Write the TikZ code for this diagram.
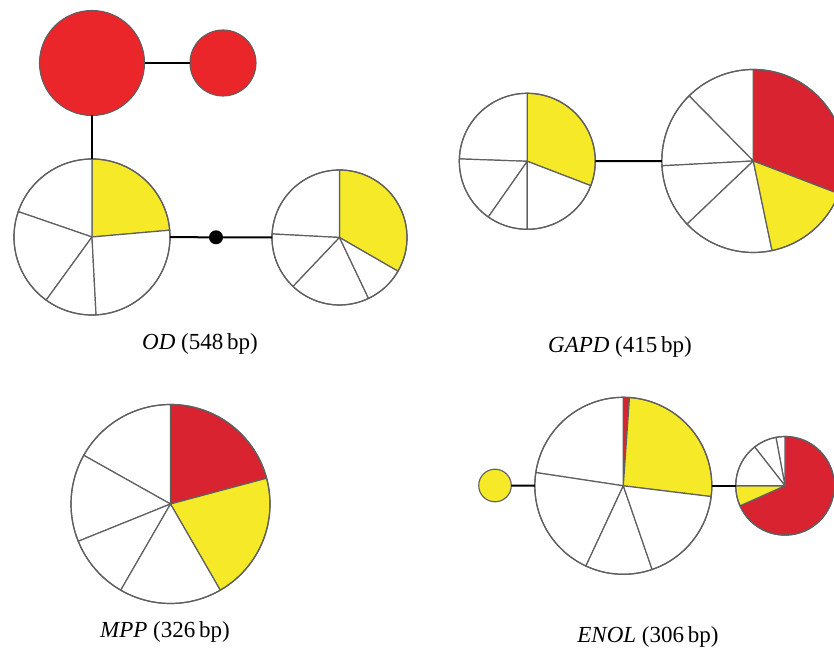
\documentclass[tikz,border=0pt]{standalone}
\usepackage{fontspec}
\setmainfont{Liberation Serif}
\definecolor{odred}{RGB}{234,38,42}
\definecolor{pred}{RGB}{218,35,48}
\definecolor{pyel}{RGB}{246,233,40}
\definecolor{pline}{RGB}{95,95,95}
\newcommand\pieslice[5]{%
  \filldraw[slice, fill=#5] (#1.center) -- ++(#3:#2pt) arc[start angle=#3, end angle=#4, radius=#2pt] -- cycle;}
\newcommand\pierim[2]{\draw[slice] (#1.center) circle[radius=#2pt];}
\begin{document}
\begin{tikzpicture}[x=1pt,y=1pt,
  slice/.style={draw=pline, line width=1.2pt, line join=round},
  pienode/.style={circle, inner sep=0pt, outer sep=0pt},
  fullnode/.style={circle, inner sep=0pt, outer sep=0pt, draw=pline, line width=1.1pt},
  link/.style={draw=black, line width=2pt},
  lab/.style={font=\fontsize{23}{27}\selectfont, inner sep=0pt}]
\useasboundingbox (0,0) rectangle (834,650);
\clip (0,0) rectangle (834,650);

% ---------------- OD ----------------
\node[fullnode, fill=odred, minimum size=105pt] (odA) at (92,587) {};
\node[fullnode, fill=odred, minimum size=66pt] (odB) at (223,587) {};
\node[pienode, minimum size=156pt] (odC) at (92,413) {};
\node[circle, fill=black, inner sep=0pt, outer sep=0pt, minimum size=14pt] (dot) at (216,412.7) {};
\node[pienode, minimum size=135pt] (odD) at (339.5,412.5) {};
\pieslice{odC}{78}{5}{90}{pyel}
\pieslice{odC}{78}{90}{161}{white}
\pieslice{odC}{78}{161}{234}{white}
\pieslice{odC}{78}{234}{273}{white}
\pieslice{odC}{78}{273}{365}{white}
\pierim{odC}{78}
\pieslice{odD}{67.5}{-30}{90}{pyel}
\pieslice{odD}{67.5}{90}{177}{white}
\pieslice{odD}{67.5}{177}{226.5}{white}
\pieslice{odD}{67.5}{226.5}{295.5}{white}
\pieslice{odD}{67.5}{295.5}{330}{white}
\pierim{odD}{67.5}
\draw[link] (odA) -- (odB);
\draw[link] (odA) -- (odC);
\draw[link] (odC) -- (dot) -- (odD);
\node[lab] (odlab) at (200,306) {\textit{OD} (548\,bp)};

% ---------------- GAPD ----------------
\node[pienode, minimum size=136pt] (gA) at (527.3,488.7) {};
\node[pienode, minimum size=183pt] (gB) at (753.3,489) {};
\pieslice{gA}{68}{-21}{90}{pyel}
\pieslice{gA}{68}{90}{178}{white}
\pieslice{gA}{68}{178}{235}{white}
\pieslice{gA}{68}{235}{270}{white}
\pieslice{gA}{68}{270}{339}{white}
\pierim{gA}{68}
\pieslice{gB}{91.5}{-21}{90}{pred}
\pieslice{gB}{91.5}{90}{134.6}{white}
\pieslice{gB}{91.5}{134.6}{183}{white}
\pieslice{gB}{91.5}{183}{223.6}{white}
\pieslice{gB}{91.5}{223.6}{281.8}{white}
\pieslice{gB}{91.5}{281.8}{339}{pyel}
\pierim{gB}{91.5}
\draw[link] (gA) -- (gB);
\node[lab] (glab) at (620,303) {\textit{GAPD} (415\,bp)};

% ---------------- MPP ----------------
\node[pienode, minimum size=199pt] (mA) at (170.5,146) {};
\pieslice{mA}{99.5}{15}{90}{pred}
\pieslice{mA}{99.5}{-60}{15}{pyel}
\pieslice{mA}{99.5}{90}{150.7}{white}
\pieslice{mA}{99.5}{150.7}{202}{white}
\pieslice{mA}{99.5}{202}{240}{white}
\pieslice{mA}{99.5}{240}{300}{white}
\pierim{mA}{99.5}
\node[lab] (mlab) at (165,18) {\textit{MPP} (326\,bp)};

% ---------------- ENOL ----------------
\node[fullnode, fill=pyel, minimum size=32.6pt] (eA) at (495,164.5) {};
\node[pienode, minimum size=177pt] (eB) at (623.3,164.2) {};
\node[pienode, minimum size=98.6pt] (eC) at (785,164.2) {};
\pieslice{eB}{88.5}{86}{90}{pred}
\pieslice{eB}{88.5}{-7}{86}{pyel}
\pieslice{eB}{88.5}{90}{171.4}{white}
\pieslice{eB}{88.5}{171.4}{245}{white}
\pieslice{eB}{88.5}{245}{289}{white}
\pieslice{eB}{88.5}{289}{353}{white}
\pierim{eB}{88.5}
\pieslice{eC}{49.3}{204}{450}{pred}
\pieslice{eC}{49.3}{180}{204}{pyel}
\pieslice{eC}{49.3}{90}{100.6}{white}
\pieslice{eC}{49.3}{100.6}{128}{white}
\pieslice{eC}{49.3}{128}{180}{white}
\pierim{eC}{49.3}
\draw[link] (eA) -- (eB);
\draw[link] (eB) -- (eC);
\node[lab] (elab) at (648,13) {\textit{ENOL} (306\,bp)};
\end{tikzpicture}
\end{document}
